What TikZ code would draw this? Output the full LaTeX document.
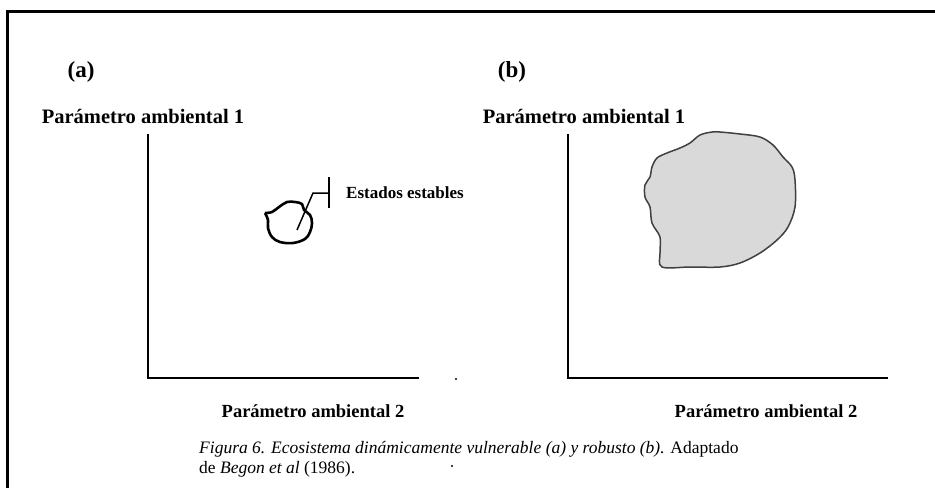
\documentclass[tikz,border=0pt]{standalone}
\usepackage{fontspec}
\setmainfont{Liberation Serif}
\begin{document}
\begin{tikzpicture}[x=1pt,y=-1pt,
  frame/.style={line width=3pt},
  axis/.style={line width=2.8pt},
  lbl/.style={font=\bfseries\fontsize{20.5}{22}\selectfont, inner sep=0pt},
  lblx/.style={font=\bfseries\fontsize{18.5}{20}\selectfont, inner sep=0pt},
  tag/.style={font=\bfseries\fontsize{23}{25}\selectfont, inner sep=0pt},
  note/.style={font=\bfseries\fontsize{17}{19}\selectfont, inner sep=0pt, anchor=west},
  captxt/.style={font=\fontsize{17.5}{20}\selectfont, inner sep=0pt, anchor=north west, align=left},
  speck/.style={fill=black, circle, inner sep=0pt, minimum size=2.4pt}]
\useasboundingbox (0,0) rectangle (935,488);
\fill[white] (0,0) rectangle (935,488);
% open frame: top and left edges only
\coordinate (fl) at (7,488);
\coordinate (fc) at (7,11);
\coordinate (fr) at (935,11);
\draw[frame] (fl) -- (fc) -- (fr);

% panel (a)
\node[tag] (ta) at (81,72) {(a)};
\node[lbl] (ya) at (143,116) {Parámetro ambiental 1};
\coordinate (a0) at (148,378);
\coordinate (ay) at (148,134);
\coordinate (ax) at (419,378);
\draw[axis] (ay) -- (a0) -- (ax);
\node[lblx] (xa) at (313,411) {Parámetro ambiental 2};

% small set of stable states
\draw[line width=2.6pt, line join=round]
  plot[smooth, tension=0.6] coordinates {(265,213) (272,212) (279,207) (287,202) (295,202) (302,204) (304,210) (310,215) (312,223) (310,232) (305,239) (293,243) (280,242) (272,237) (268,228) (268,220) (265,213)};
\coordinate (pa) at (297,230);
\coordinate (pb) at (313,193);
\coordinate (pc) at (329,193);
\coordinate (pt) at (329,177);
\coordinate (pd) at (329,208);
\draw[line width=1.5pt] (pa) -- (pb) -- (pc);
\draw[line width=1.5pt] (pt) -- (pd);
\node[note] (ee) at (346,193) {Estados estables};

% panel (b)
\node[tag] (tb) at (512,72) {(b)};
\node[lbl] (yb) at (584,116) {Parámetro ambiental 1};
\coordinate (b0) at (568,378);
\coordinate (by) at (568,134);
\coordinate (bx) at (888,378);
\draw[axis] (by) -- (b0) -- (bx);
\node[lblx] (xb) at (766,411) {Parámetro ambiental 2};

% large set of stable states
\draw[line width=1.5pt, draw=black!75, fill=black!15, line join=round]
  plot[smooth cycle, tension=0.55] coordinates {(720,132) (740,134) (760,137) (773,145) (783,157) (792,167) (795,180) (795,207) (788,227) (777,240) (760,253) (740,263) (720,267) (690,267) (662,267) (660,253) (660,237) (652,223) (650,207) (645,197) (645,185) (650,177) (652,167) (657,158) (667,153) (680,148) (690,143) (700,135) (712,132)};

% caption
\node[captxt] (cp) at (199,441) {\textit{Figura 6. Ecosistema dinámicamente vulnerable (a) y robusto (b).} Adaptado\\de \textit{Begon et al} (1986).};

\node[speck] (s1) at (456,379) {};
\node[speck] (s2) at (452,466) {};
\end{tikzpicture}
\end{document}
